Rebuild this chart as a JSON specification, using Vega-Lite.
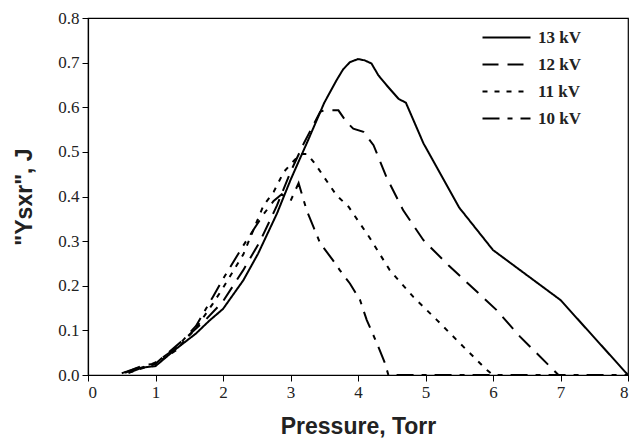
{
  "$schema": "https://vega.github.io/schema/vega-lite/v6.json",
  "width": 540,
  "height": 357,
  "autosize": {"type": "none"},
  "padding": {"left": 88, "top": 18, "right": 14, "bottom": 66},
  "background": "white",
  "config": {
    "view": {"stroke": "black", "strokeWidth": 1.2},
    "axis": {
      "domainColor": "black", "tickColor": "black", "grid": false,
      "labelFont": "Liberation Serif", "labelFontSize": 17, "labelColor": "#222",
      "titleFont": "Liberation Sans", "titleFontWeight": "bold", "titleFontSize": 23, "titleColor": "#222",
      "tickSize": 6, "domainWidth": 1.2, "tickWidth": 1
    }
  },
  "data": {"values": [
    {"series": "13 kV", "p": 0.5, "e": 0.004},
    {"series": "13 kV", "p": 0.72, "e": 0.015},
    {"series": "13 kV", "p": 1.0, "e": 0.02},
    {"series": "13 kV", "p": 1.3, "e": 0.058},
    {"series": "13 kV", "p": 1.6, "e": 0.093},
    {"series": "13 kV", "p": 1.8, "e": 0.122},
    {"series": "13 kV", "p": 2.0, "e": 0.148},
    {"series": "13 kV", "p": 2.3, "e": 0.212},
    {"series": "13 kV", "p": 2.52, "e": 0.272},
    {"series": "13 kV", "p": 2.8, "e": 0.362},
    {"series": "13 kV", "p": 3.0, "e": 0.437},
    {"series": "13 kV", "p": 3.26, "e": 0.526},
    {"series": "13 kV", "p": 3.5, "e": 0.61},
    {"series": "13 kV", "p": 3.68, "e": 0.66},
    {"series": "13 kV", "p": 3.78, "e": 0.685},
    {"series": "13 kV", "p": 3.88, "e": 0.701},
    {"series": "13 kV", "p": 4.0, "e": 0.708},
    {"series": "13 kV", "p": 4.1, "e": 0.705},
    {"series": "13 kV", "p": 4.2, "e": 0.698},
    {"series": "13 kV", "p": 4.3, "e": 0.672},
    {"series": "13 kV", "p": 4.42, "e": 0.65},
    {"series": "13 kV", "p": 4.6, "e": 0.619},
    {"series": "13 kV", "p": 4.71, "e": 0.61},
    {"series": "13 kV", "p": 4.97, "e": 0.519},
    {"series": "13 kV", "p": 5.5, "e": 0.375},
    {"series": "13 kV", "p": 6.0, "e": 0.28},
    {"series": "13 kV", "p": 7.0, "e": 0.168},
    {"series": "13 kV", "p": 8.0, "e": 0.0},
    {"series": "12 kV", "p": 0.55, "e": 0.005},
    {"series": "12 kV", "p": 0.82, "e": 0.022},
    {"series": "12 kV", "p": 1.0, "e": 0.025},
    {"series": "12 kV", "p": 1.15, "e": 0.045},
    {"series": "12 kV", "p": 1.5, "e": 0.09},
    {"series": "12 kV", "p": 1.75, "e": 0.125},
    {"series": "12 kV", "p": 2.0, "e": 0.165},
    {"series": "12 kV", "p": 2.3, "e": 0.235},
    {"series": "12 kV", "p": 2.55, "e": 0.3},
    {"series": "12 kV", "p": 2.8, "e": 0.38},
    {"series": "12 kV", "p": 3.0, "e": 0.455},
    {"series": "12 kV", "p": 3.2, "e": 0.52},
    {"series": "12 kV", "p": 3.44, "e": 0.59},
    {"series": "12 kV", "p": 3.5, "e": 0.593},
    {"series": "12 kV", "p": 3.71, "e": 0.593},
    {"series": "12 kV", "p": 3.83, "e": 0.567},
    {"series": "12 kV", "p": 3.93, "e": 0.552},
    {"series": "12 kV", "p": 4.08, "e": 0.545},
    {"series": "12 kV", "p": 4.23, "e": 0.515},
    {"series": "12 kV", "p": 4.42, "e": 0.444},
    {"series": "12 kV", "p": 4.67, "e": 0.369},
    {"series": "12 kV", "p": 4.97, "e": 0.302},
    {"series": "12 kV", "p": 5.34, "e": 0.246},
    {"series": "12 kV", "p": 6.05, "e": 0.146},
    {"series": "12 kV", "p": 6.4, "e": 0.086},
    {"series": "12 kV", "p": 6.97, "e": 0.0},
    {"series": "11 kV", "p": 0.6, "e": 0.005},
    {"series": "11 kV", "p": 1.0, "e": 0.025},
    {"series": "11 kV", "p": 1.3, "e": 0.055},
    {"series": "11 kV", "p": 1.6, "e": 0.105},
    {"series": "11 kV", "p": 1.85, "e": 0.16},
    {"series": "11 kV", "p": 2.0, "e": 0.195},
    {"series": "11 kV", "p": 2.3, "e": 0.27},
    {"series": "11 kV", "p": 2.6, "e": 0.38},
    {"series": "11 kV", "p": 2.75, "e": 0.41},
    {"series": "11 kV", "p": 2.9, "e": 0.455},
    {"series": "11 kV", "p": 3.05, "e": 0.48},
    {"series": "11 kV", "p": 3.15, "e": 0.495},
    {"series": "11 kV", "p": 3.25, "e": 0.495},
    {"series": "11 kV", "p": 3.36, "e": 0.474},
    {"series": "11 kV", "p": 3.68, "e": 0.403},
    {"series": "11 kV", "p": 3.86, "e": 0.377},
    {"series": "11 kV", "p": 4.18, "e": 0.306},
    {"series": "11 kV", "p": 4.47, "e": 0.235},
    {"series": "11 kV", "p": 4.82, "e": 0.175},
    {"series": "11 kV", "p": 5.17, "e": 0.123},
    {"series": "11 kV", "p": 5.51, "e": 0.071},
    {"series": "11 kV", "p": 5.91, "e": 0.011},
    {"series": "11 kV", "p": 6.0, "e": 0.0},
    {"series": "10 kV", "p": 0.6, "e": 0.005},
    {"series": "10 kV", "p": 1.0, "e": 0.028},
    {"series": "10 kV", "p": 1.3, "e": 0.06},
    {"series": "10 kV", "p": 1.6, "e": 0.11},
    {"series": "10 kV", "p": 1.85, "e": 0.175},
    {"series": "10 kV", "p": 2.0, "e": 0.215},
    {"series": "10 kV", "p": 2.3, "e": 0.29},
    {"series": "10 kV", "p": 2.6, "e": 0.36},
    {"series": "10 kV", "p": 2.75, "e": 0.39},
    {"series": "10 kV", "p": 2.87, "e": 0.405},
    {"series": "10 kV", "p": 3.0, "e": 0.39},
    {"series": "10 kV", "p": 3.12, "e": 0.43},
    {"series": "10 kV", "p": 3.24, "e": 0.369},
    {"series": "10 kV", "p": 3.34, "e": 0.332},
    {"series": "10 kV", "p": 3.44, "e": 0.295},
    {"series": "10 kV", "p": 3.63, "e": 0.257},
    {"series": "10 kV", "p": 3.73, "e": 0.235},
    {"series": "10 kV", "p": 3.88, "e": 0.205},
    {"series": "10 kV", "p": 4.03, "e": 0.168},
    {"series": "10 kV", "p": 4.13, "e": 0.123},
    {"series": "10 kV", "p": 4.28, "e": 0.071},
    {"series": "10 kV", "p": 4.4, "e": 0.026},
    {"series": "10 kV", "p": 4.45, "e": 0.0},
    {"series": "10 kV", "p": 8.0, "e": 0.0}
  ]},
  "mark": {"type": "line", "color": "black", "strokeWidth": 2, "clip": true},
  "encoding": {
    "x": {"field": "p", "type": "quantitative", "title": "Pressure, Torr",
      "scale": {"domain": [0, 8], "nice": false, "zero": false},
      "axis": {"values": [0,1,2,3,4,5,6,7,8], "format": "d", "titlePadding": 15, "labelPadding": 3}},
    "y": {"field": "e", "type": "quantitative", "title": "\"Ysxr\", J",
      "scale": {"domain": [0, 0.8], "nice": false},
      "axis": {"values": [0,0.1,0.2,0.3,0.4,0.5,0.6,0.7,0.8], "format": ".1f", "titlePadding": 21, "labelPadding": 3}},
    "strokeDash": {"field": "series", "type": "nominal",
      "scale": {"domain": ["13 kV", "12 kV", "11 kV", "10 kV"], "range": [[1, 0], [16, 9], [5, 7], [17, 8, 5, 8]]},
      "legend": {"title": null, "orient": "none", "legendX": 405, "legendY": 6,
        "symbolType": "M-2,0H2", "symbolSize": 576, "symbolStrokeWidth": 2.2, "symbolStrokeColor": "black",
        "labelFont": "Liberation Serif", "labelFontWeight": "bold", "labelFontSize": 17, "labelColor": "#222",
        "labelOffset": 18, "rowPadding": 5}}
  }
}
